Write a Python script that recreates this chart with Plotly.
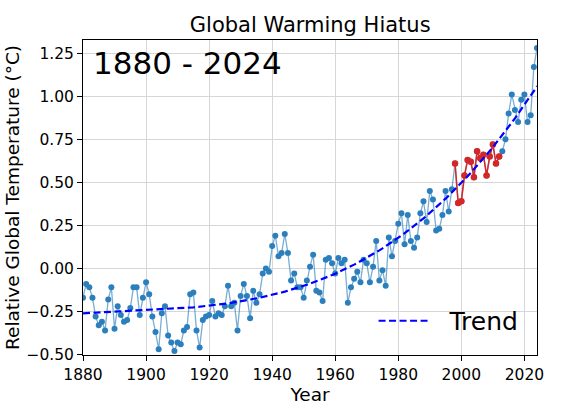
import numpy as np
import plotly.graph_objects as go

# GISTEMP-style annual anomalies
years = list(range(1880, 2025))
anomaly = [
    -0.17, -0.09, -0.11, -0.17, -0.28, -0.33, -0.31, -0.36, -0.18, -0.11,
    -0.35, -0.22, -0.27, -0.31, -0.30, -0.23, -0.11, -0.11, -0.27, -0.17,
    -0.08, -0.15, -0.28, -0.37, -0.47, -0.26, -0.22, -0.39, -0.43, -0.48,
    -0.43, -0.44, -0.36, -0.34, -0.15, -0.14, -0.36, -0.46, -0.30, -0.28,
    -0.27, -0.19, -0.28, -0.26, -0.27, -0.22, -0.10, -0.22, -0.20, -0.36,
    -0.16, -0.09, -0.16, -0.29, -0.13, -0.20, -0.15, -0.03, -0.00, -0.02,
    0.13, 0.19, 0.07, 0.09, 0.20, 0.09, -0.07, -0.03, -0.11, -0.11,
    -0.17, -0.07, 0.01, 0.08, -0.13, -0.14, -0.19, 0.05, 0.06, 0.03,
    -0.03, 0.06, 0.03, 0.05, -0.20, -0.11, -0.06, -0.02, -0.08, 0.05,
    0.03, -0.08, 0.01, 0.16, -0.07, -0.01, -0.10, 0.18, 0.07, 0.16,
    0.26, 0.32, 0.14, 0.31, 0.16, 0.12, 0.18, 0.32, 0.39, 0.27,
    0.45, 0.40, 0.22, 0.23, 0.31, 0.45, 0.33, 0.46, 0.61, 0.38,
    0.39, 0.54, 0.63, 0.62, 0.53, 0.68, 0.64, 0.66, 0.54, 0.65,
    0.72, 0.61, 0.65, 0.68, 0.75, 0.90, 1.01, 0.92, 0.85, 0.98,
    1.01, 0.85, 0.89, 1.17, 1.28,
]
hiatus_start, hiatus_end = 1998, 2012

yr = np.array(years)
an = np.array(anomaly)
mask = (yr >= hiatus_start) & (yr <= hiatus_end)

# cubic trend fitted to the data
t = (yr - 1950) / 50.0
trend = np.polyval(np.polyfit(t, an, 3), t)

blue = '#2b7fbd'
red = '#d62728'

fig = go.Figure()

fig.add_trace(go.Scatter(
    x=yr, y=an, mode='lines',
    line=dict(color='rgba(31,119,180,0.6)', width=1.3),
    showlegend=False, hoverinfo='skip'
))
fig.add_trace(go.Scatter(
    x=yr, y=an, mode='markers',
    marker=dict(color=blue, size=6),
    showlegend=False
))
fig.add_trace(go.Scatter(
    x=yr[mask], y=an[mask], mode='lines+markers',
    line=dict(color=red, width=1.5),
    marker=dict(color=red, size=6.5),
    showlegend=False
))
fig.add_trace(go.Scatter(
    x=yr, y=trend, mode='lines', name='  Trend',
    line=dict(color='blue', width=2.2, dash='7px,3.5px')
))

axis_style = dict(
    showline=True, linecolor='black', linewidth=1, mirror=True,
    ticks='outside', ticklen=5, tickcolor='black',
    showgrid=True, gridcolor='#d6d6d6', gridwidth=1.2,
    zeroline=False, automargin=False,
    tickfont=dict(family='DejaVu Sans', size=15.5, color='black'),
    title_font=dict(family='DejaVu Sans', size=18.5, color='black'),
)

fig.update_layout(
    width=563, height=409,
    margin=dict(l=83, r=26, t=40, b=54, autoexpand=False),
    paper_bgcolor='white', plot_bgcolor='white',
    title=dict(text='Global Warming Hiatus', x=0.551, xanchor='center',
               y=0.94, yanchor='middle',
               font=dict(family='DejaVu Sans', size=21, color='black')),
    xaxis=dict(axis_style, title=dict(text='Year', standoff=5),
               range=[1880, 2024], tickvals=list(range(1880, 2021, 20))),
    yaxis=dict(axis_style, title=dict(text='Relative Global Temperature (°C)', standoff=1),
               range=[-0.503, 1.327], tickvals=[-0.5, -0.25, 0, 0.25, 0.5, 0.75, 1.0, 1.25],
               tickformat='.2f'),
    legend=dict(x=0.64, y=0.035, xanchor='left', yanchor='bottom',
                bgcolor='rgba(0,0,0,0)', itemwidth=50,
                font=dict(family='DejaVu Sans', size=25, color='black')),
)

fig.add_annotation(
    text='1880 - 2024', xref='paper', yref='paper',
    x=0.018, y=0.927, xanchor='left', yanchor='middle', showarrow=False,
    font=dict(family='DejaVu Sans', size=31, color='black')
)

fig.write_html('out.html', config={'displayModeBar': False},
               post_script="document.body.style.margin='0';")
